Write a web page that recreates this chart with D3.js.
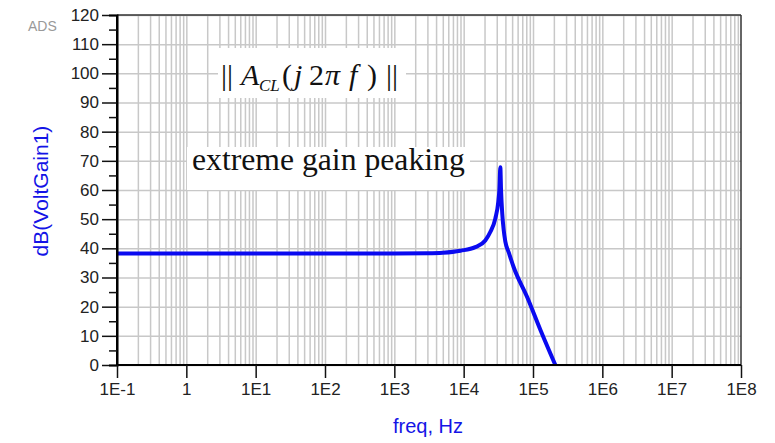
<!DOCTYPE html>
<html>
<head>
<meta charset="utf-8">
<script src="https://cdn.jsdelivr.net/npm/d3@7"></script>
<style>
  body { margin: 0; background: #fff; }
  svg { display: block; }
  .tick text { font-family: "Liberation Sans", Arial, sans-serif; font-size: 17px; fill: #222; }
  .grid line { stroke: #c8c8c8; stroke-width: 1.5; }
  .grid path { display: none; }
</style>
</head>
<body>
<svg width="775" height="443"></svg>
<script>
// frequency (Hz) and gain (dB)
const freq = [0.1, 1, 10, 100, 1000, 3000, 5000, 9000, 14700, 20500, 24200, 28600, 31600, 32800, 33800,
              34600, 36000, 37700, 39900, 45000, 52500, 82000, 128000, 210000];
const gain = [38.2, 38.2, 38.2, 38.2, 38.2, 38.3, 38.5, 39.2, 40.4, 42.7, 45.6, 50.2, 56.0, 60.5, 67.8,
              60.0, 52.0, 46.5, 42.3, 38.4, 33.6, 23.4, 12.0, 0];

const yTicks = [0, 10, 20, 30, 40, 50, 60, 70, 80, 90, 100, 110, 120];
const yMinor = [5, 15, 25, 35, 45, 55, 65, 75, 85, 95, 105, 115];
const xTicks = [1e-1, 1, 1e1, 1e2, 1e3, 1e4, 1e5, 1e6, 1e7, 1e8];
const xLabels = ['1E-1', '1', '1E1', '1E2', '1E3', '1E4', '1E5', '1E6', '1E7', '1E8'];

const svg = d3.select('svg');
const width = +svg.attr('width');
const height = +svg.attr('height');
const margin = { left: 117, right: 34, top: 15, bottom: 78 };
const inner = {
    width: width - margin.left - margin.right,
    height: height - margin.top - margin.bottom
};

const xScale = d3.scaleLog().domain([1e-1, 1e8]).range([0, inner.width]);
const yScale = d3.scaleLinear().domain([0, 120]).range([inner.height, 0]);

const g = svg.append('g').attr('transform', `translate(${margin.left},${margin.top})`);

// grid
const gridX = [];
xTicks.slice(0, -1).forEach(d => { for (let k = 1; k <= 9; k++) gridX.push(d * k); });
g.append('g').attr('class', 'grid')
    .attr('transform', `translate(0,${inner.height})`)
    .call(d3.axisBottom(xScale).tickValues(gridX).tickSize(-inner.height).tickFormat(''));
g.append('g').attr('class', 'grid')
    .call(d3.axisLeft(yScale).tickValues(yTicks).tickSize(-inner.width).tickFormat(''));

// frame top/right
g.append('line').attr('x1', 0).attr('x2', inner.width).attr('y1', 0).attr('y2', 0)
    .attr('stroke', '#333').attr('stroke-width', 1.5);
g.append('line').attr('x1', inner.width).attr('x2', inner.width).attr('y1', 0).attr('y2', inner.height)
    .attr('stroke', '#333').attr('stroke-width', 1.5);

// annotations
const serif = '"Liberation Serif", "Times New Roman", serif';
svg.append('rect').attr('x', 218).attr('y', 48).attr('width', 188).attr('height', 50).attr('fill', '#fff');
svg.append('rect').attr('x', 187).attr('y', 147).attr('width', 283).attr('height', 43).attr('fill', '#fff');

const formula = [
    { t: '||', x: 221, it: false },
    { t: 'A', x: 241, it: true },
    { t: '(', x: 282, it: false },
    { t: 'j', x: 294, it: true },
    { t: '2', x: 309, it: false },
    { t: 'π', x: 325, it: true },
    { t: 'f', x: 349, it: true },
    { t: ')', x: 367, it: false },
    { t: '||', x: 386, it: false }
];
svg.selectAll('text.formula').data(formula).enter().append('text')
    .attr('class', 'formula')
    .attr('x', d => d.x).attr('y', 85)
    .attr('font-family', serif).attr('font-size', 30)
    .attr('font-style', d => d.it ? 'italic' : 'normal')
    .attr('fill', '#111')
    .text(d => d.t);
svg.append('text').attr('x', 259).attr('y', 91)
    .attr('font-family', serif).attr('font-size', 17).attr('font-style', 'italic')
    .attr('fill', '#111').text('CL');

svg.append('text').attr('x', 192).attr('y', 170)
    .attr('font-family', serif).attr('font-size', 31.7).attr('fill', '#111')
    .text('extreme gain peaking');

// curve
const line = d3.line()
    .x((d, i) => xScale(freq[i]))
    .y(d => yScale(d))
    .curve(d3.curveMonotoneX);
g.append('path').datum(gain)
    .attr('d', line)
    .attr('fill', 'none')
    .attr('stroke', '#0a0af0')
    .attr('stroke-width', 4);

// axes
const yAxis = g.append('g').call(d3.axisLeft(yScale).tickValues(yTicks).tickSize(15).tickPadding(3));
g.append('g').call(d3.axisLeft(yScale).tickValues(yMinor).tickSize(8).tickFormat(''));
const xAxis = g.append('g').attr('transform', `translate(0,${inner.height})`)
    .call(d3.axisBottom(xScale).tickValues(xTicks).tickSize(13).tickPadding(5)
        .tickFormat((d, i) => xLabels[i]));
g.selectAll('.domain').attr('stroke', '#000').attr('stroke-width', 2);
g.selectAll('.tick line').filter(function() { return !this.closest('.grid'); })
    .attr('stroke', '#111').attr('stroke-width', 1.5);
xAxis.select('.domain').attr('d', `M0,0H${inner.width}`);
yAxis.select('.domain').attr('d', `M0,${inner.height}V0`);

// titles
svg.append('text').text('ADS')
    .attr('x', 28).attr('y', 31)
    .attr('font-family', '"Liberation Sans", Arial, sans-serif')
    .attr('font-size', 14).attr('fill', '#999');
svg.append('text').text('dB(VoltGain1)')
    .attr('transform', 'translate(48,191) rotate(-90)')
    .attr('text-anchor', 'middle')
    .attr('font-family', '"Liberation Sans", Arial, sans-serif')
    .attr('font-size', 21).attr('fill', '#1414e6');
svg.append('text').text('freq, Hz')
    .attr('x', 428).attr('y', 433)
    .attr('text-anchor', 'middle')
    .attr('font-family', '"Liberation Sans", Arial, sans-serif')
    .attr('font-size', 20).attr('fill', '#1414e6');
</script>
</body>
</html>
